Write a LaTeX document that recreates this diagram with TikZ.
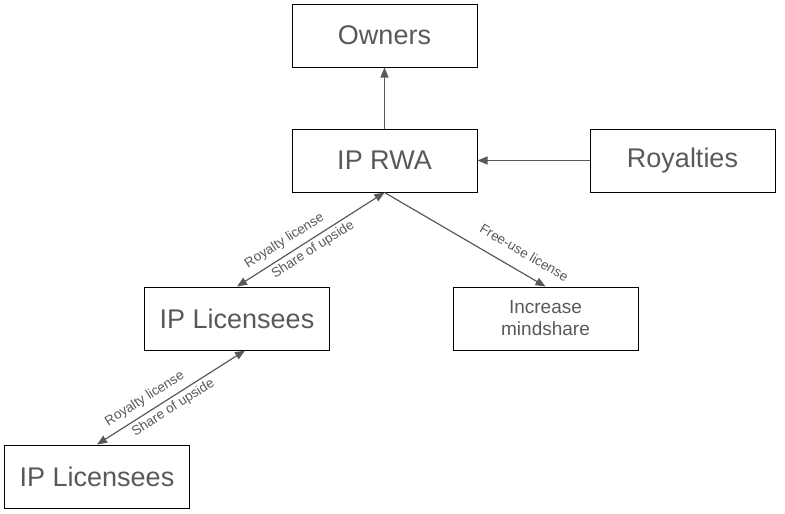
\documentclass[tikz,border=0pt]{standalone}
\usepackage{fontspec}
\setmainfont{Liberation Sans}
\usetikzlibrary{arrows.meta}
\definecolor{txt}{HTML}{595959}
\begin{document}
\begin{tikzpicture}[x=1pt,y=-1pt,>={Triangle[length=10pt,width=8pt]},
  box/.style={draw=black,line width=1pt,minimum width=185pt,minimum height=63pt,text=txt,font=\fontsize{27}{30}\selectfont,inner sep=0pt},
  smallbox/.style={box,font=\fontsize{19}{22}\selectfont,align=center},
  conn/.style={draw=txt,line width=1.2pt},
  lbl/.style={text=txt,font=\fontsize{13.5}{15}\selectfont,sloped,inner sep=1pt}]
\useasboundingbox (0,0) rectangle (785,514);
\node[box](owners) at (384.5,35.5){Owners};
\node[box](rwa) at (384.5,160.5){IP RWA};
\node[box](royalties) at (682.5,160.5){Royalties};
\node[box](lic) at (237,318.5){IP Licensees};
\node[smallbox](mind) at (545.5,318.5){Increase\\mindshare};
\node[box](sublic) at (97,476.5){IP Licensees};
\draw[conn,->](rwa)--(owners);
\draw[conn,->](royalties)--(rwa);
\draw[conn,<->](lic.north)--node[lbl,pos=.37,above=5pt]{Royalty license}node[lbl,pos=.48,below=2pt]{Share of upside}(rwa.south);
\draw[conn,->](rwa.south)--node[lbl,pos=.81,above=12pt]{Free-use license}(mind.north);
\draw[conn,<->](sublic.north)--node[lbl,pos=.37,above=5pt]{Royalty license}node[lbl,pos=.48,below=2pt]{Share of upside}([xshift=8pt]lic.south);
\end{tikzpicture}
\end{document}
